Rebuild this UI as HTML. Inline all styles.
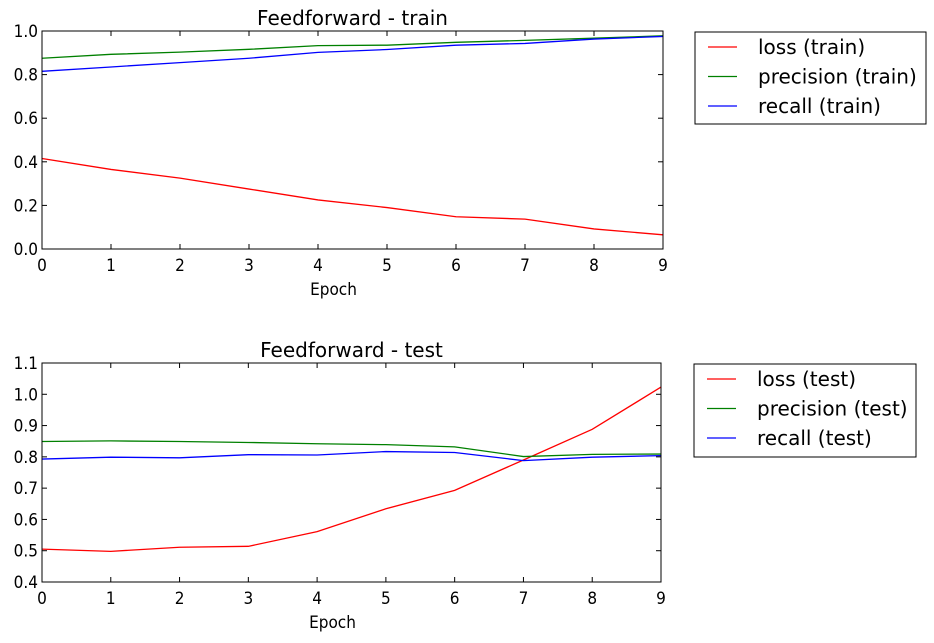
<!DOCTYPE html>
<html><head><meta charset="utf-8"><style>
html,body{margin:0;padding:0;background:#fff;}
svg{display:block;}
.tick{font-family:"DejaVu Sans Condensed","DejaVu Sans","Liberation Sans",sans-serif;font-size:17px;fill:#000;}
.title{font-family:"DejaVu Sans","Liberation Sans",sans-serif;font-size:20px;fill:#000;}
.leg{font-family:"DejaVu Sans","Liberation Sans",sans-serif;font-size:20px;fill:#000;}
</style></head><body>
<svg id="chart" width="934" height="643" viewBox="0 0 934 643" xmlns="http://www.w3.org/2000/svg"></svg>
<script>
const epochs=[0,1,2,3,4,5,6,7,8,9];
const trainLoss=[0.415,0.365,0.325,0.275,0.225,0.19,0.148,0.137,0.092,0.065];
const trainPrecision=[0.875,0.893,0.903,0.916,0.933,0.935,0.948,0.957,0.967,0.978];
const trainRecall=[0.815,0.835,0.855,0.875,0.902,0.915,0.935,0.943,0.963,0.975];
const testLoss=[0.505,0.498,0.511,0.514,0.561,0.634,0.693,0.79,0.888,1.023];
const testPrecision=[0.849,0.851,0.849,0.846,0.842,0.839,0.832,0.801,0.808,0.809];
const testRecall=[0.793,0.799,0.797,0.807,0.806,0.817,0.814,0.788,0.799,0.804];
const trainYTicks=["0.0","0.2","0.4","0.6","0.8","1.0"];
const testYTicks=["0.4","0.5","0.6","0.7","0.8","0.9","1.0","1.1"];
const trainLegend=["loss (train)","precision (train)","recall (train)"];
const testLegend=["loss (test)","precision (test)","recall (test)"];
const colors=["#ff0000","#008000","#0000ff"];

const svg=document.getElementById('chart');
const NS="http://www.w3.org/2000/svg";
function mk(tag,attrs,parent){const e=document.createElementNS(NS,tag);for(const k in attrs)e.setAttribute(k,attrs[k]);(parent||svg).appendChild(e);return e;}

function panel(cfg){
  const g=mk('g',{});
  
  
  const {x0,x1,y0,y1,ymin,ymax}=cfg;
  const sx=v=>x0+(v-0)/(9-0)*(x1-x0);
  const sy=v=>y1-(v-ymin)/(ymax-ymin)*(y1-y0);
  cfg.series.forEach((s,i)=>{
    const p=mk('polyline',{points:epochs.map((e,j)=>sx(e)+','+sy(s[j])).join(' '),fill:'none',stroke:colors[i],'stroke-width':1.3},g);
    
    
  });
  const fr=mk('rect',{x:x0,y:y0,width:x1-x0,height:y1-y0,fill:'none',stroke:'#000','stroke-width':1},g);
  
  
  epochs.forEach(e=>{
    const x=sx(e);
    mk('line',{x1:x,x2:x,y1:y1,y2:y1-5,stroke:'#000'},g);
    mk('line',{x1:x,x2:x,y1:y0,y2:y0+5,stroke:'#000'},g);
    const t=mk('text',{x:x,y:y1+22,'text-anchor':'middle',class:'tick'},g);
    t.textContent=String(e);
    
    
  });
  cfg.yticks.forEach(lbl=>{
    const y=sy(parseFloat(lbl));
    mk('line',{x1:x0,x2:x0+5,y1:y,y2:y,stroke:'#000'},g);
    mk('line',{x1:x1,x2:x1-5,y1:y,y2:y,stroke:'#000'},g);
    const t=mk('text',{x:x0-4,y:y+6,'text-anchor':'end',class:'tick'},g);
    t.textContent=lbl;
    
    
  });
  const xt=mk('text',{x:(x0+x1)/2-19,y:y1+46,'text-anchor':'middle',class:'tick'},g);
  xt.textContent='Epoch';
  
  
  const tt=mk('text',{x:(x0+x1)/2,y:y0-6,'text-anchor':'middle',class:'title'},g);
  tt.textContent=cfg.title;
  
  
  const L=cfg.legend;
  const lg=mk('g',{},g);
  
  
  mk('rect',{x:L.x,y:L.y,width:L.w,height:L.h,fill:'#fff',stroke:'#000','stroke-width':1},lg);
  cfg.labels.forEach((lbl,i)=>{
    const cy=L.y+15+i*29.5;
    const eg=mk('g',{},lg);
    
    
    mk('line',{x1:L.x+13,x2:L.x+42,y1:cy,y2:cy,stroke:colors[i],'stroke-width':1.3},eg);
    const t=mk('text',{x:L.x+63,y:cy+7,class:'leg'},eg);
    t.textContent=lbl;
  });
}
panel({name:'train',x0:42,x1:663,y0:31,y1:249,ymin:0,ymax:1,yticks:trainYTicks,title:'Feedforward - train',
  series:[trainLoss,trainPrecision,trainRecall],labels:trainLegend,legend:{x:695,y:32,w:231,h:92}});
panel({name:'test',x0:42,x1:661,y0:363,y1:582,ymin:0.4,ymax:1.1,yticks:testYTicks,title:'Feedforward - test',
  series:[testLoss,testPrecision,testRecall],labels:testLegend,legend:{x:694,y:364,w:222,h:93}});
</script>
</body></html>
